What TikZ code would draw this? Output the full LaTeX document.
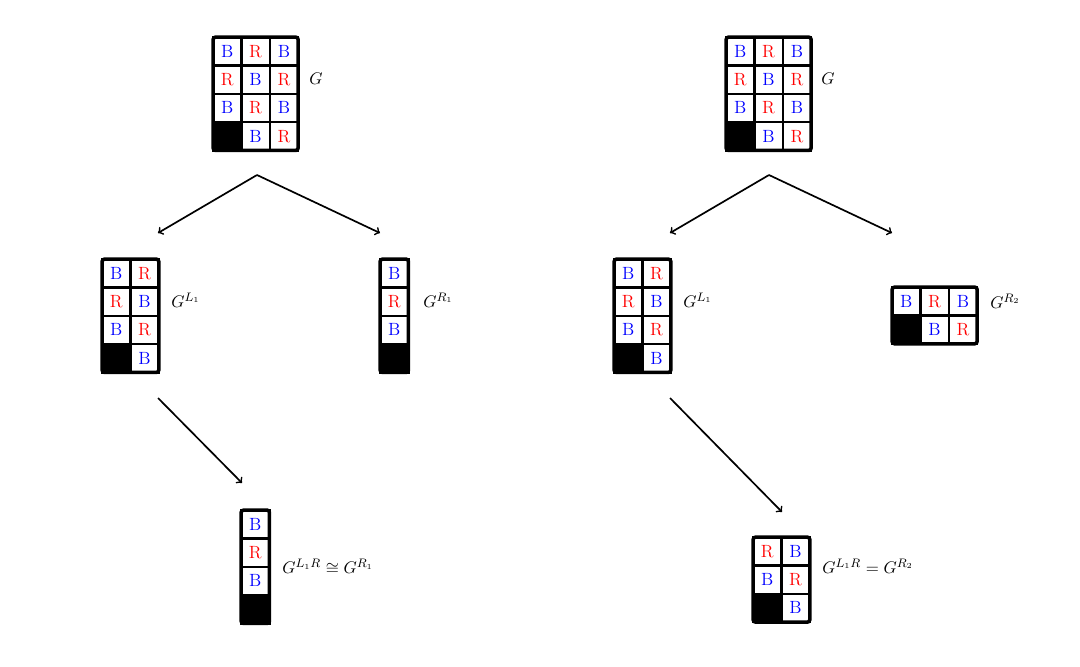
\documentclass[tikz,border=0pt]{standalone}
\usetikzlibrary{matrix}
\begin{document}
\begin{tikzpicture}[x=0.65pt,y=-0.65pt,
  cell/.style={draw,line width=1.5pt,minimum size=18.4pt,inner sep=0pt,outer sep=0pt,anchor=center,font=\fontsize{11.5}{13}\selectfont},
  cb/.style={text=blue},
  cr/.style={text=red},
  blk/.style={fill=black},
  gridm/.style={matrix of nodes,nodes={cell},column sep=-1.5pt,row sep=-1.5pt,inner sep=0pt,outer sep=0pt,anchor=north west},
  outer/.style={line width=2.3pt,rounded corners=1.5pt},
  arr/.style={-to,line width=1.1pt},
  lbl/.style={anchor=west,inner sep=0pt,font=\fontsize{10.8}{13}\selectfont}]
\useasboundingbox (0,0) rectangle (1080,666);
% ---------- left tree ----------
\matrix (GA) [gridm] at (212,36) {
 |[cb]| B & |[cr]| R & |[cb]| B \\
 |[cr]| R & |[cb]| B & |[cr]| R \\
 |[cb]| B & |[cr]| R & |[cb]| B \\
 |[blk]| {} & |[cb]| B & |[cr]| R \\
};
\draw[outer] (GA-1-1.north west) rectangle (GA-4-3.south east);
\node[lbl] (lGA) at (309,79) {$G$};

\matrix (LA) [gridm] at (101,258) {
 |[cb]| B & |[cr]| R \\
 |[cr]| R & |[cb]| B \\
 |[cb]| B & |[cr]| R \\
 |[blk]| {} & |[cb]| B \\
};
\draw[outer] (LA-1-1.north west) rectangle (LA-4-2.south east);
\node[lbl] (lLA) at (171,300) {$G^{L_1}$};

\matrix (RA) [gridm] at (379,258) {
 |[cb]| B \\
 |[cr]| R \\
 |[cb]| B \\
 |[blk]| {} \\
};
\draw[outer] (RA-1-1.north west) rectangle (RA-4-1.south east);
\node[lbl] (lRA) at (423,300) {$G^{R_1}$};

\matrix (BA) [gridm] at (240,509) {
 |[cb]| B \\
 |[cr]| R \\
 |[cb]| B \\
 |[blk]| {} \\
};
\draw[outer] (BA-1-1.north west) rectangle (BA-4-1.south east);
\node[lbl] (lBA) at (282,567) {$G^{L_1R}\cong G^{R_1}$};

\coordinate (tA) at (257,175);
\coordinate (eA1) at (158,233);
\coordinate (eA2) at (380,233);
\coordinate (sA) at (158,398);
\coordinate (eA3) at (242,483);
\draw[arr] (tA) -- (eA1);
\draw[arr] (tA) -- (eA2);
\draw[arr] (sA) -- (eA3);

% ---------- right tree ----------
\matrix (GB) [gridm] at (725,36) {
 |[cb]| B & |[cr]| R & |[cb]| B \\
 |[cr]| R & |[cb]| B & |[cr]| R \\
 |[cb]| B & |[cr]| R & |[cb]| B \\
 |[blk]| {} & |[cb]| B & |[cr]| R \\
};
\draw[outer] (GB-1-1.north west) rectangle (GB-4-3.south east);
\node[lbl] (lGB) at (821,79) {$G$};

\matrix (LB) [gridm] at (613,258) {
 |[cb]| B & |[cr]| R \\
 |[cr]| R & |[cb]| B \\
 |[cb]| B & |[cr]| R \\
 |[blk]| {} & |[cb]| B \\
};
\draw[outer] (LB-1-1.north west) rectangle (LB-4-2.south east);
\node[lbl] (lLB) at (683,300) {$G^{L_1}$};

\matrix (RB) [gridm] at (891,286) {
 |[cb]| B & |[cr]| R & |[cb]| B \\
 |[blk]| {} & |[cb]| B & |[cr]| R \\
};
\draw[outer] (RB-1-1.north west) rectangle (RB-2-3.south east);
\node[lbl] (lRB) at (990,301) {$G^{R_2}$};

\matrix (BB) [gridm] at (752,536) {
 |[cr]| R & |[cb]| B \\
 |[cb]| B & |[cr]| R \\
 |[blk]| {} & |[cb]| B \\
};
\draw[outer] (BB-1-1.north west) rectangle (BB-3-2.south east);
\node[lbl] (lBB) at (822,566) {$G^{L_1R}=G^{R_2}$};

\coordinate (tB) at (769,175);
\coordinate (eB1) at (670,233);
\coordinate (eB2) at (892,233);
\coordinate (sB) at (670,398);
\coordinate (eB3) at (782,512);
\draw[arr] (tB) -- (eB1);
\draw[arr] (tB) -- (eB2);
\draw[arr] (sB) -- (eB3);
\end{tikzpicture}
\end{document}
